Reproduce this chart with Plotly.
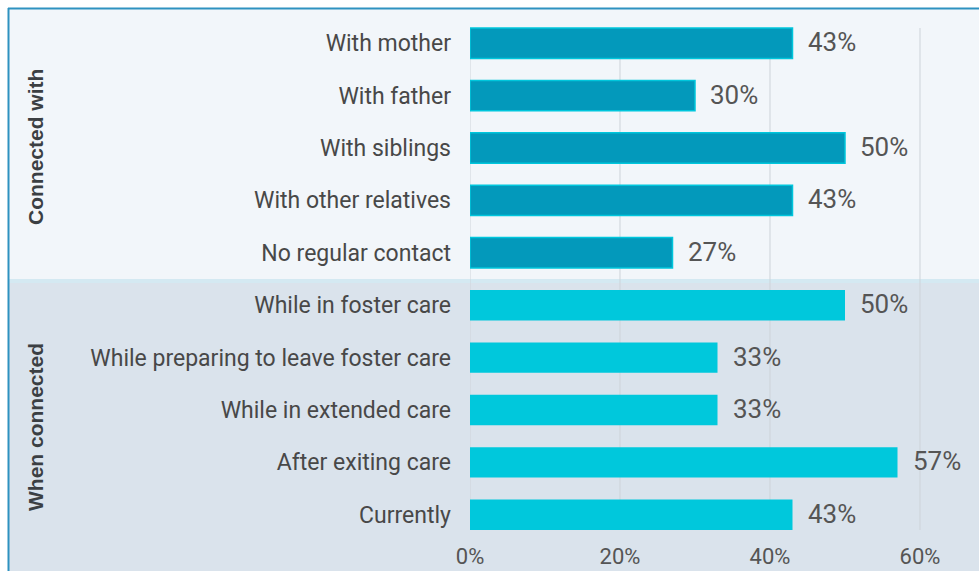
import plotly.graph_objects as go

# ---- data ----
group1_name = "Connected with"
group1_cats = ["With mother", "With father", "With siblings", "With other relatives", "No regular contact"]
group1_vals = [43, 30, 50, 43, 27]

group2_name = "When connected"
group2_cats = ["While in foster care", "While preparing to leave foster care", "While in extended care",
               "After exiting care", "Currently"]
group2_vals = [50, 33, 33, 57, 43]

tick_vals = [0, 20, 40, 60]
tick_text = ["0%", "20%", "40%", "60%"]

# ---- styling ----
W, H = 979, 571
PL, PR, PT, PB = 470, 979, 17, 541   # plot area in page pixels
ML, MR, MT, MB = PL, W - PR, PT, H - PB
plot_w = PR - PL
plot_h = PB - PT
x_max = plot_w / 7.5  # 7.5 px per percent


def py(p):  # page pixel y -> paper y
    return (PB - p) / plot_h


def px(p):  # page pixel x -> paper x
    return (p - PL) / plot_w


dark = "#0399bb"
dark_line = "#00c6dc"
light = "#00c8dc"
bar_w = 0.58

all_cats = group1_cats + group2_cats

fig = go.Figure()
fig.add_trace(go.Bar(y=group1_cats, x=group1_vals, orientation="h", width=bar_w,
                     marker=dict(color=dark, line=dict(color=dark_line, width=1.5)),
                     hoverinfo="skip", name=group1_name))
fig.add_trace(go.Bar(y=group2_cats, x=group2_vals, orientation="h", width=bar_w,
                     marker=dict(color=light, line=dict(width=0)),
                     hoverinfo="skip", name=group2_name))

annotations = []
for c, v in zip(all_cats, group1_vals + group2_vals):
    annotations.append(dict(x=v, y=c, xref="x", yref="y", text=f"{v}%", showarrow=False,
                            xanchor="left", yanchor="middle", xshift=13, yshift=1,
                            font=dict(family="Roboto", size=26, color="#555555")))

for name, yc in [(group1_name, 147), (group2_name, 427)]:
    annotations.append(dict(x=px(35), y=py(yc), xref="paper", yref="paper", text=f"<b>{name}</b>",
                            textangle=-90, showarrow=False, xanchor="center", yanchor="middle",
                            font=dict(family="Liberation Sans", size=21, color="#3b3f43")))

shapes = [
    # upper panel
    dict(type="rect", xref="paper", yref="paper", x0=px(8), x1=1.1, y0=py(279), y1=py(8),
         fillcolor="#f2f6fa", line=dict(width=0), layer="below"),
    # divider
    dict(type="rect", xref="paper", yref="paper", x0=px(8), x1=1.1, y0=py(283), y1=py(279),
         fillcolor="#d4e9f2", line=dict(width=0), layer="below"),
    # lower panel
    dict(type="rect", xref="paper", yref="paper", x0=px(8), x1=1.1, y0=py(H + 20), y1=py(283),
         fillcolor="#dae3ec", line=dict(width=0), layer="below"),
    # frame top / left
    dict(type="line", xref="paper", yref="paper", x0=px(8), x1=1.1, y0=py(8.5), y1=py(8.5),
         line=dict(color="#2e92c0", width=2)),
    dict(type="line", xref="paper", yref="paper", x0=px(8.5), x1=px(8.5), y0=py(H + 20), y1=py(8),
         line=dict(color="#2e92c0", width=2)),
]
for t in tick_vals:
    shapes.append(dict(type="line", xref="x", yref="paper", x0=t, x1=t, y0=py(530), y1=py(28),
                       line=dict(color="#cdd3d9", width=1), layer="below"))

fig.update_layout(
    width=W, height=H,
    margin=dict(l=ML, r=MR, t=MT, b=MB, autoexpand=False),
    paper_bgcolor="white", plot_bgcolor="rgba(0,0,0,0)",
    showlegend=False, barmode="overlay",
    annotations=annotations, shapes=shapes,
    xaxis=dict(range=[0, x_max], tickvals=tick_vals, ticktext=tick_text, showgrid=False,
               zeroline=False, showline=False, ticks="", automargin=False,
               tickfont=dict(family="Roboto", size=22, color="#555555")),
    yaxis=dict(categoryorder="array", categoryarray=all_cats, autorange="reversed",
               showgrid=False, zeroline=False, showline=False, ticks="", ticklabelstandoff=18,
               automargin=False,
               tickfont=dict(family="Roboto", size=23, color="#484848")),
)

fig.write_html("out.html", config={"displayModeBar": False},
               post_script="document.body.style.margin='0';document.body.style.overflow='hidden';")
